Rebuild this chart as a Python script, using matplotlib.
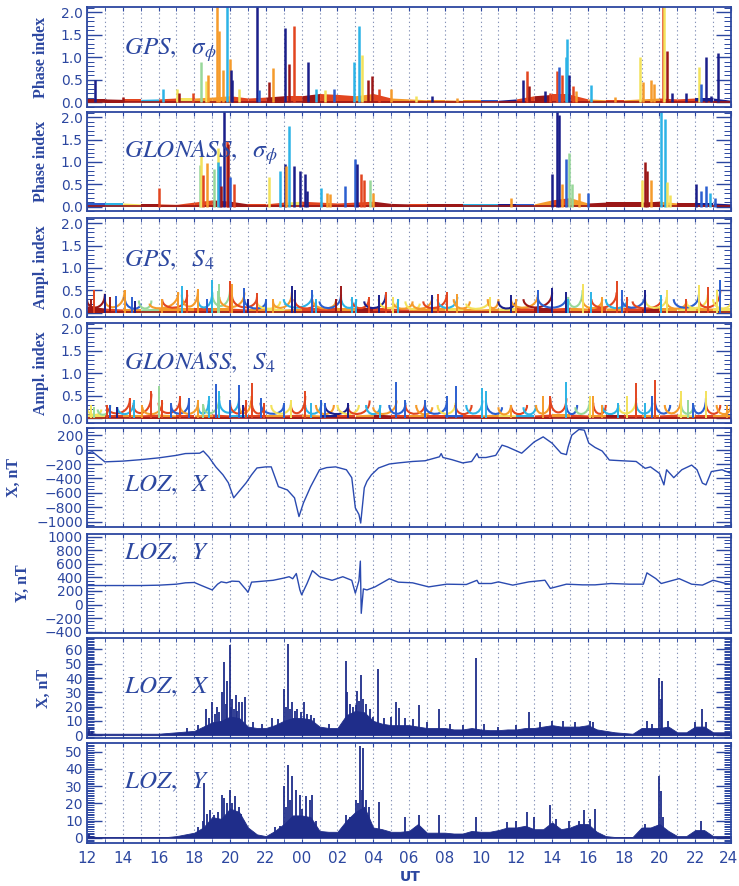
import numpy as np
import matplotlib.pyplot as plt
from matplotlib.path import Path
from matplotlib.patches import PathPatch
from matplotlib.ticker import MultipleLocator, FormatStrFormatter
from matplotlib.transforms import ScaledTranslation

plt.rcParams['mathtext.fontset'] = 'stix'

INK = '#2c47a0'
NAVY = '#1f2d8a'
# jet-like satellite colours: 0 dark blue ... 7 dark red
JET = ['#1b1f8a', '#2b5fd0', '#2cb3e6', '#98d89a', '#f3e25c', '#f59b2b', '#e2451f', '#9b1717']

# hours since 12 UT of day 1 (12..48)
band_hours = list(range(12, 49))

# ---- panel 1: GPS phase index ----
gps_phase_band = [0.08, 0.08, 0.07, 0.07, 0.08, 0.1, 0.1, 0.12, 0.15, 0.1, 0.12, 0.15, 0.15,
                  0.2, 0.18, 0.15, 0.2, 0.1, 0.08, 0.06, 0.06, 0.05, 0.05, 0.05, 0.08, 0.15,
                  0.18, 0.18, 0.08, 0.06, 0.06, 0.08, 0.1, 0.08, 0.1, 0.1, 0.05]
gps_phase_band_col = [7, 7, 6, 2, 6, 4, 5, 5, 6, 6, 7, 6, 7, 6, 6, 5, 6, 5, 5, 5, 5, 5, 1, 0,
                      6, 7, 6, 6, 5, 6, 5, 5, 6, 6, 0, 0]
gps_phase_spikes = [(12.45, 0.49, 0), (13.0, 0.08, 7), (14.0, 0.12, 7), (16.25, 0.3, 2),
                    (17.05, 0.3, 4), (17.15, 0.22, 7), (17.9, 0.2, 6), (18.4, 0.9, 3),
                    (18.65, 0.48, 4), (18.77, 0.6, 5), (19.25, 2.3, 5), (19.4, 1.58, 5),
                    (19.6, 0.72, 5), (19.85, 2.3, 2), (20.0, 0.97, 5), (20.05, 0.72, 0),
                    (20.1, 0.5, 0), (20.5, 0.3, 4), (21.5, 2.3, 0), (21.6, 0.28, 1),
                    (22.2, 0.46, 7), (22.4, 0.76, 5), (23.05, 1.66, 0), (23.3, 0.85, 7),
                    (23.55, 1.7, 6), (24.35, 0.9, 0), (24.8, 0.3, 2), (25.3, 0.28, 4),
                    (25.8, 0.3, 1), (26.9, 0.9, 2), (27.2, 1.7, 2), (27.4, 1.05, 4),
                    (27.7, 0.5, 7), (27.95, 0.58, 7), (28.3, 0.3, 6), (29.0, 0.3, 5),
                    (30.4, 0.14, 4), (31.3, 0.14, 0), (32.7, 0.1, 5), (36.4, 0.5, 0),
                    (36.6, 0.7, 6), (36.7, 0.36, 7), (37.6, 0.25, 0), (37.9, 0.2, 6),
                    (38.3, 0.7, 6), (38.4, 0.78, 1), (38.55, 0.6, 6), (38.75, 1.01, 2),
                    (38.85, 1.4, 2), (38.95, 0.6, 0), (39.15, 0.37, 6), (39.35, 0.26, 5),
                    (40.2, 0.38, 2), (41.5, 0.12, 5), (42.9, 1.0, 4), (43.1, 0.45, 5),
                    (43.5, 0.5, 5), (43.7, 0.4, 5), (44.2, 2.3, 6), (44.25, 2.3, 4),
                    (44.4, 1.15, 7), (44.7, 0.2, 0), (45.5, 0.2, 0), (46.2, 0.78, 4),
                    (46.35, 0.4, 1), (46.6, 1.0, 0), (46.9, 0.15, 0), (47.3, 1.1, 0)]

# ---- panel 2: GLONASS phase index ----
glo_phase_band = [0.08, 0.08, 0.08, 0.06, 0.06, 0.05, 0.1, 0.15, 0.12, 0.06, 0.06, 0.1, 0.12,
                  0.1, 0.08, 0.1, 0.12, 0.07, 0.06, 0.06, 0.06, 0.06, 0.06, 0.06, 0.06, 0.06,
                  0.15, 0.2, 0.08, 0.1, 0.1, 0.1, 0.12, 0.08, 0.08, 0.08, 0.06]
glo_phase_band_col = [1, 2, 4, 7, 6, 6, 6, 7, 7, 6, 6, 4, 6, 6, 6, 6, 7, 7, 6, 7, 7, 2, 2, 0,
                      1, 5, 6, 5, 7, 7, 7, 7, 5, 7, 0, 0]
glo_phase_spikes = [(16.0, 0.42, 6), (18.3, 0.94, 3), (18.35, 1.13, 4), (18.5, 0.7, 6),
                    (18.7, 0.98, 5), (19.1, 0.85, 3), (19.3, 1.32, 4), (19.35, 1.0, 2),
                    (19.45, 0.9, 1), (19.5, 0.45, 7), (19.65, 2.3, 0), (19.8, 1.47, 6),
                    (19.9, 1.4, 7), (20.0, 0.66, 1), (20.2, 0.5, 6), (22.2, 0.66, 4),
                    (22.8, 0.8, 2), (23.05, 0.95, 0), (23.1, 0.9, 5), (23.3, 1.8, 2),
                    (23.55, 0.92, 0), (23.9, 0.8, 0), (24.2, 0.72, 0), (24.3, 0.35, 0),
                    (25.1, 0.42, 2), (25.4, 0.3, 5), (25.6, 0.28, 5), (26.4, 0.47, 1),
                    (27.0, 1.07, 1), (27.1, 0.95, 0), (27.3, 0.72, 6), (27.5, 0.6, 6),
                    (27.8, 0.6, 3), (28.0, 0.3, 5), (35.7, 0.2, 5), (38.0, 0.73, 0),
                    (38.3, 2.3, 0), (38.4, 2.05, 0), (38.55, 0.5, 5), (38.8, 1.07, 1),
                    (38.95, 1.2, 3), (39.1, 0.5, 3), (39.5, 0.3, 5), (40.0, 0.3, 1),
                    (43.0, 0.6, 4), (43.2, 1.0, 7), (43.3, 0.8, 7), (43.5, 0.6, 5),
                    (44.1, 2.3, 2), (44.3, 1.97, 2), (44.4, 0.55, 4), (44.6, 0.25, 4),
                    (46.05, 0.5, 0), (46.3, 0.35, 1), (46.6, 0.47, 1), (46.8, 0.3, 2),
                    (47.1, 0.2, 1)]

# ---- panel 3: GPS S4 ----
gps_s4_band = [0.15, 0.1, 0.08, 0.08, 0.1, 0.1, 0.1, 0.1, 0.1, 0.08, 0.08, 0.08, 0.1, 0.1,
               0.1, 0.1, 0.1, 0.1, 0.08, 0.1, 0.1, 0.1, 0.08, 0.1, 0.12, 0.1, 0.1, 0.12,
               0.1, 0.1, 0.12, 0.1, 0.1, 0.1, 0.12, 0.1, 0.1]
gps_s4_band_col = [7, 6, 5, 3, 5, 5, 6, 5, 6, 5, 4, 5, 6, 6, 5, 7, 6, 6, 5, 5, 4, 5, 5, 4,
                   6, 7, 6, 5, 6, 5, 6, 7, 5, 4, 5, 4]
gps_s4_spikes = [(12.2, 0.3, 7), (12.4, 0.5, 6), (13.0, 0.42, 0), (13.3, 0.35, 7),
                 (13.6, 0.38, 1), (14.1, 0.5, 5), (14.5, 0.35, 1), (14.7, 0.25, 0),
                 (16.2, 0.3, 5), (17.1, 0.45, 5), (17.3, 0.6, 2), (17.6, 0.5, 6),
                 (18.2, 0.53, 5), (18.7, 0.3, 1), (19.0, 0.74, 2), (19.3, 0.48, 3),
                 (19.4, 0.65, 3), (20.0, 0.7, 6), (20.1, 0.65, 5), (20.8, 0.54, 1),
                 (21.0, 0.3, 0), (21.5, 0.43, 6), (22.0, 0.3, 1), (22.4, 0.3, 5),
                 (23.45, 0.6, 0), (23.6, 0.5, 0), (24.6, 0.5, 1), (24.8, 0.3, 2),
                 (25.9, 0.3, 7), (26.2, 0.6, 7), (26.8, 0.35, 2), (27.05, 0.3, 2),
                 (27.75, 0.35, 6), (28.3, 0.4, 0), (28.7, 0.46, 6), (29.1, 0.35, 4),
                 (29.4, 0.3, 2), (31.3, 0.4, 0), (31.6, 0.42, 6), (32.1, 0.46, 6),
                 (32.7, 0.42, 5), (34.5, 0.35, 4), (35.7, 0.4, 0), (36.0, 0.3, 5),
                 (37.2, 0.5, 1), (38.0, 0.55, 0), (38.8, 0.45, 0), (38.9, 0.3, 2),
                 (39.7, 0.63, 4), (40.2, 0.45, 2), (40.8, 0.35, 5), (41.6, 0.7, 6),
                 (41.9, 0.5, 1), (42.2, 0.35, 6), (43.2, 0.5, 0), (44.1, 0.4, 2),
                 (44.4, 0.5, 4), (45.5, 0.3, 6), (46.2, 0.62, 4), (46.7, 0.58, 6),
                 (47.2, 0.5, 4), (47.4, 0.74, 1)]
gps_s4_arcs = [(12.0, 13.0, 0.3, 0.42, 7), (13.0, 14.1, 0.3, 0.5, 5), (14.1, 15.0, 0.35, 0.2, 1),
               (14.9, 15.6, 0.27, 0.27, 3), (15.5, 17.1, 0.2, 0.45, 5), (16.2, 17.6, 0.3, 0.4, 6),
               (17.3, 18.2, 0.4, 0.5, 5), (18.2, 19.0, 0.3, 0.45, 2), (19.0, 20.0, 0.45, 0.55, 3),
               (19.4, 20.8, 0.35, 0.45, 5), (20.1, 21.5, 0.4, 0.35, 6), (20.8, 22.0, 0.3, 0.25, 1),
               (21.5, 22.8, 0.25, 0.25, 4), (22.4, 23.45, 0.25, 0.45, 5), (23.0, 24.6, 0.3, 0.4, 2),
               (23.6, 24.8, 0.3, 0.25, 6), (24.6, 25.9, 0.3, 0.25, 5), (25.0, 26.2, 0.25, 0.4, 1),
               (26.2, 27.05, 0.35, 0.3, 2), (26.8, 27.75, 0.3, 0.3, 6), (27.5, 28.7, 0.25, 0.4, 0),
               (28.3, 29.4, 0.3, 0.3, 4), (29.1, 30.2, 0.25, 0.25, 5), (29.8, 30.6, 0.25, 0.2, 4),
               (30.2, 31.3, 0.2, 0.35, 5), (30.8, 32.1, 0.25, 0.4, 6), (31.6, 32.7, 0.3, 0.35, 2),
               (32.5, 33.4, 0.3, 0.25, 5), (33.2, 34.5, 0.2, 0.3, 4), (34.4, 35.0, 0.3, 0.3, 5),
               (35.0, 36.0, 0.25, 0.3, 0), (35.7, 37.2, 0.3, 0.4, 5), (36.4, 38.0, 0.3, 0.45, 7),
               (37.2, 38.8, 0.35, 0.35, 1), (38.9, 39.7, 0.35, 0.5, 3), (39.7, 40.8, 0.3, 0.3, 5),
               (40.2, 41.6, 0.3, 0.45, 6), (41.0, 42.2, 0.3, 0.3, 2), (41.9, 43.2, 0.3, 0.4, 1),
               (42.5, 44.1, 0.25, 0.3, 6), (43.2, 44.4, 0.3, 0.35, 4), (44.4, 45.5, 0.25, 0.25, 5),
               (44.8, 46.2, 0.3, 0.4, 1), (45.5, 46.7, 0.25, 0.4, 4), (46.2, 47.4, 0.3, 0.5, 6),
               (47.0, 48.0, 0.3, 0.25, 4)]

# ---- panel 4: GLONASS S4 ----
glo_s4_band = [0.1, 0.08, 0.08, 0.08, 0.1, 0.08, 0.08, 0.1, 0.08, 0.08, 0.08, 0.08, 0.1, 0.08,
               0.08, 0.08, 0.1, 0.08, 0.08, 0.08, 0.08, 0.08, 0.08, 0.1, 0.08, 0.08, 0.1, 0.1,
               0.08, 0.08, 0.08, 0.08, 0.08, 0.1, 0.08, 0.08, 0.08]
glo_s4_band_col = [4, 6, 5, 6, 5, 6, 5, 6, 2, 6, 5, 6, 5, 0, 6, 5, 7, 6, 5, 6, 1, 6, 5, 4,
                   2, 6, 5, 6, 5, 7, 6, 5, 6, 4, 6, 5]
glo_s4_spikes = [(12.2, 0.3, 4), (12.4, 0.25, 3), (13.1, 0.3, 6), (13.3, 0.3, 1),
                 (13.7, 0.25, 0), (14.4, 0.45, 6), (14.6, 0.4, 2), (15.1, 0.3, 5),
                 (15.6, 0.6, 6), (16.0, 0.73, 3), (16.2, 0.4, 6), (16.7, 0.35, 1),
                 (17.2, 0.5, 6), (17.7, 0.45, 1), (18.2, 0.4, 5), (18.5, 0.33, 3),
                 (18.8, 0.5, 2), (19.2, 0.76, 1), (19.4, 0.6, 2), (20.0, 0.4, 1),
                 (20.5, 0.75, 1), (20.7, 0.3, 0), (20.9, 0.4, 6), (21.2, 0.78, 6),
                 (21.7, 0.45, 1), (21.9, 0.35, 6), (23.0, 0.35, 1), (23.4, 0.4, 4),
                 (24.2, 0.6, 6), (24.5, 0.35, 2), (25.1, 0.4, 1), (25.3, 0.35, 1),
                 (26.6, 0.35, 0), (28.4, 0.3, 2), (29.3, 0.81, 1), (29.8, 0.4, 1),
                 (30.9, 0.4, 1), (32.1, 0.5, 1), (32.6, 0.73, 1), (34.1, 0.67, 2),
                 (34.3, 0.6, 2), (35.7, 0.3, 5), (37.5, 0.5, 5), (37.9, 0.5, 6),
                 (38.8, 0.81, 2), (40.1, 0.5, 4), (40.3, 0.5, 5), (40.8, 0.3, 5),
                 (41.7, 0.35, 2), (42.2, 0.5, 4), (42.7, 0.78, 6), (43.2, 0.35, 2),
                 (43.6, 0.5, 1), (43.75, 0.85, 6), (45.2, 0.6, 4), (45.6, 0.4, 3),
                 (45.9, 0.35, 1), (46.6, 0.62, 4), (47.8, 0.3, 5)]
glo_s4_arcs = [(12.0, 12.8, 0.25, 0.2, 4), (12.6, 13.3, 0.2, 0.3, 3), (13.1, 14.4, 0.3, 0.45, 6),
               (13.7, 14.6, 0.25, 0.35, 2), (14.6, 15.6, 0.3, 0.55, 6), (15.1, 16.2, 0.25, 0.35, 5),
               (16.0, 17.2, 0.35, 0.45, 6), (16.7, 17.7, 0.3, 0.4, 1), (17.2, 18.2, 0.3, 0.35, 5),
               (18.2, 18.8, 0.3, 0.4, 2), (18.5, 19.4, 0.3, 0.5, 3), (19.4, 20.5, 0.4, 0.45, 2),
               (20.0, 20.9, 0.35, 0.35, 6), (20.5, 21.2, 0.3, 0.5, 5), (21.2, 21.9, 0.4, 0.3, 6),
               (21.7, 23.0, 0.35, 0.3, 1), (22.3, 23.4, 0.3, 0.35, 4), (23.4, 24.2, 0.3, 0.5, 6),
               (24.2, 25.1, 0.3, 0.35, 2), (24.8, 25.8, 0.3, 0.3, 5), (25.3, 26.6, 0.3, 0.3, 0),
               (26.0, 27.2, 0.3, 0.3, 4), (26.6, 27.8, 0.25, 0.4, 6), (27.6, 28.4, 0.3, 0.3, 2),
               (28.0, 29.3, 0.25, 0.4, 5), (28.9, 29.8, 0.3, 0.35, 1), (29.8, 30.9, 0.3, 0.35, 6),
               (30.4, 31.3, 0.3, 0.25, 5), (30.9, 32.1, 0.3, 0.35, 1), (31.6, 32.6, 0.3, 0.35, 4),
               (32.6, 33.5, 0.3, 0.3, 6), (33.2, 34.1, 0.3, 0.4, 2), (34.3, 35.2, 0.4, 0.25, 1),
               (35.0, 35.7, 0.25, 0.3, 5), (35.7, 36.6, 0.3, 0.3, 6), (36.4, 37.1, 0.25, 0.3, 2),
               (37.1, 37.9, 0.3, 0.4, 5), (37.9, 38.8, 0.45, 0.45, 6), (38.8, 39.4, 0.3, 0.3, 1),
               (39.3, 40.1, 0.25, 0.4, 3), (40.3, 41.0, 0.35, 0.3, 6), (40.8, 41.7, 0.3, 0.3, 2),
               (41.7, 42.7, 0.3, 0.45, 4), (42.7, 43.6, 0.35, 0.35, 2), (43.75, 44.6, 0.4, 0.3, 1),
               (44.3, 45.2, 0.3, 0.45, 5), (45.2, 45.9, 0.35, 0.3, 3), (45.9, 46.6, 0.3, 0.45, 1),
               (46.6, 47.4, 0.35, 0.3, 6), (47.2, 48.0, 0.3, 0.3, 5)]

# ---- panel 5: LOZ X, nT ----
loz_x_t = [12.0, 12.3, 13.0, 14.0, 15.0, 16.0, 17.0, 17.5, 18.3, 18.5, 18.8, 19.2, 19.6, 19.9,
           20.2, 20.5, 20.9, 21.2, 21.5, 22.0, 22.3, 22.7, 23.2, 23.6, 23.85, 24.1, 24.5, 25.0,
           25.4, 25.9, 26.5, 26.8, 27.0, 27.2, 27.3, 27.5, 27.65, 27.9, 28.3, 28.9, 29.4, 30.2,
           30.9, 31.7, 31.8, 31.9, 32.4, 33.0, 33.5, 33.8, 33.9, 34.3, 34.85, 35.2, 35.5, 36.3,
           37.0, 37.5, 38.0, 38.5, 38.8, 38.9, 39.1, 39.5, 39.8, 40.05, 40.4, 40.8, 41.2, 41.9,
           42.7, 43.2, 43.5, 44.0, 44.25, 44.4, 44.8, 45.25, 45.8, 46.1, 46.4, 46.6, 46.9, 47.5,
           48.0]
loz_x_v = [-50, -30, -170, -160, -140, -115, -80, -55, -50, -20, -100, -240, -350, -460,
           -670, -580, -460, -350, -255, -240, -240, -515, -560, -670, -930, -740, -515, -280,
           -250, -240, -280, -390, -810, -900, -1020, -530, -440, -350, -255, -200, -185, -165,
           -155, -100, -55, -110, -140, -185, -165, -55, -110, -110, -80, 62, 38, -50,
           107, 177, 89, -50, -70, 40, 200, 280, 270, 90, 30, -20, -145, -155,
           -165, -260, -240, -330, -490, -280, -390, -280, -215, -280, -465, -490, -305, -280,
           -330]

# ---- panel 6: LOZ Y, nT ----
loz_y_t = [12.0, 13.0, 14.0, 15.0, 16.0, 17.0, 17.5, 18.0, 18.4, 19.0, 19.3, 19.5, 19.8, 20.1,
           20.5, 20.9, 21.0, 21.2, 22.4, 23.0, 23.3, 23.5, 23.7, 23.9, 24.0, 24.3, 24.6, 25.0,
           25.7, 26.3, 26.8, 27.0, 27.2, 27.28, 27.33, 27.45, 27.65, 28.1, 28.9, 29.4, 30.2,
           31.1, 32.1, 33.2, 33.8, 33.9, 34.6, 35.0, 35.8, 36.7, 37.6, 37.9, 38.8, 39.7, 40.4,
           41.3, 42.3, 43.1, 43.3, 43.8, 44.1, 45.1, 45.8, 46.4, 47.0, 47.7, 48.0]
loz_y_v = [280, 280, 280, 280, 285, 300, 320, 325, 280, 215, 300, 335, 320, 345,
           340, 215, 180, 330, 357, 390, 410, 380, 457, 215, 143, 310, 500, 410,
           357, 410, 357, 167, 350, 640, -130, 230, 215, 260, 380, 330, 320,
           260, 300, 295, 357, 310, 310, 334, 286, 334, 358, 238, 300, 290, 290,
           310, 300, 300, 467, 382, 310, 382, 300, 286, 358, 310, 300]

# ---- panels 7 and 8: LOZ X and Y fluctuations, nT ----
env_t = [12 + 0.5 * i for i in range(73)]
dx_env = [2, 1, 1, 1, 1, 1, 1, 1, 1, 1.5, 2, 2.5, 3, 6, 9, 10, 13, 12, 6, 5, 5, 7, 10, 12, 12,
          11, 6, 5, 5, 14, 17, 16, 10, 8, 7, 7, 7, 6, 5, 5, 5, 4, 4, 5, 4, 3.5, 3.5, 4, 4, 5,
          5, 6, 7, 6, 6, 6, 7, 4, 3, 2, 1.5, 1, 5, 5, 5, 6, 2, 2, 6, 6, 2, 2, 2]
dx_spikes = [(12.1, 4), (12.3, 3), (17.6, 5), (18.2, 7), (18.63, 18), (18.8, 12), (19.0, 23.5),
             (19.15, 15), (19.28, 19.6), (19.4, 16), (19.53, 30), (19.66, 51), (19.75, 22),
             (19.84, 38), (19.98, 63), (20.05, 20), (20.12, 25), (20.2, 18), (20.31, 28),
             (20.4, 17), (20.5, 23), (20.65, 23.5), (20.83, 27), (21.3, 9), (21.8, 8),
             (22.36, 12), (22.7, 11), (23.01, 32), (23.15, 20), (23.25, 63.5), (23.35, 18),
             (23.48, 23.5), (23.6, 17), (23.76, 18), (23.95, 16), (24.13, 23.5), (24.3, 15),
             (24.5, 14), (24.7, 12), (25.5, 8), (26.46, 52), (26.55, 30), (26.7, 22),
             (26.85, 20), (27.02, 21), (27.11, 31), (27.2, 24), (27.3, 42), (27.45, 25),
             (27.6, 22), (27.8, 18), (28.0, 13), (28.28, 46), (28.6, 12), (29.0, 13),
             (29.25, 23.5), (29.44, 19), (29.8, 12), (30.2, 11), (30.56, 21), (31.0, 9),
             (31.68, 18), (32.3, 8), (33.0, 7), (33.73, 54), (34.2, 8), (35.0, 6), (36.0, 7),
             (36.7, 16.5), (37.3, 9), (38.0, 10), (38.6, 10), (39.3, 9), (40.1, 10), (40.3, 9),
             (43.32, 10), (43.6, 8), (43.97, 40), (44.08, 25), (44.16, 38), (44.5, 10),
             (46.0, 9), (46.36, 18), (46.6, 9)]
dy_env = [1.5, 0.5, 0.5, 0.5, 0.5, 0.5, 0.5, 0.5, 0.5, 0.5, 1, 2, 3, 6, 12, 11, 17, 15, 6, 2,
          1, 4, 8, 13, 13, 12, 4, 3.5, 3.5, 10, 15, 18, 6, 5, 3.5, 3.5, 4, 8, 3, 3, 3, 2.5,
          2.5, 4, 3.5, 3.5, 4.5, 6, 6, 7, 5, 5, 9, 5, 6, 8, 8, 3.5, 1, 0.5, 0.5, 0.5, 6, 6,
          8, 4, 1, 1, 4.5, 4.5, 1, 1, 1]
dy_spikes = [(12.1, 2.5), (18.2, 6), (18.46, 10), (18.54, 32), (18.7, 14), (18.9, 16),
             (19.1, 13), (19.3, 15), (19.53, 25), (19.66, 23), (19.8, 20), (19.98, 28),
             (20.1, 20), (20.3, 24), (20.5, 18), (20.6, 14), (20.8, 10), (22.5, 6), (22.8, 7),
             (23.01, 30), (23.12, 18), (23.25, 42), (23.36, 22), (23.48, 36), (23.67, 28),
             (23.9, 25), (24.04, 17), (24.23, 24), (24.45, 22), (24.6, 25), (24.8, 10),
             (26.46, 13), (26.7, 12), (27.02, 22), (27.15, 20), (27.24, 53), (27.35, 28),
             (27.43, 52), (27.6, 22), (27.75, 18), (28.33, 21), (29.8, 12), (30.56, 13),
             (31.68, 13), (33.73, 12), (35.5, 9), (36.0, 10), (36.6, 15), (37.0, 12),
             (37.9, 19), (38.2, 11), (38.95, 10), (39.5, 10), (39.8, 16), (40.1, 11),
             (40.4, 16.5), (43.2, 8), (43.97, 36), (44.06, 27), (44.2, 12), (46.3, 10)]

x_labels = ['12', '14', '16', '18', '20', '22', '00', '02', '04', '06', '08', '10',
            '12', '14', '16', '18', '20', '22', '24']

panel_px = [(7, 107), (112, 211), (218, 317), (323, 423), (428, 527), (534, 633),
            (638, 738), (743, 843)]

W, H = 739, 886
fig = plt.figure(figsize=(W / 100, H / 100), dpi=100)
axes = []
for top, bot in panel_px:
    axes.append(fig.add_axes([87 / W, 1 - bot / H, 644 / W, (bot - top) / H]))


def style(ax, ylim, major, minor, fmt=None):
    ax.set_xlim(12, 48)
    ax.set_ylim(*ylim)
    ax.xaxis.set_major_locator(MultipleLocator(2))
    ax.xaxis.set_minor_locator(MultipleLocator(1))
    ax.yaxis.set_major_locator(MultipleLocator(major))
    ax.yaxis.set_minor_locator(MultipleLocator(minor))
    if fmt:
        ax.yaxis.set_major_formatter(FormatStrFormatter(fmt))
    ax.set_axisbelow(True)
    ax.grid(axis='x', which='both', color='#8592b8', ls=(0, (1.2, 2.6)), lw=0.8)
    ax.tick_params(axis='y', which='major', direction='in', length=11, width=1.0,
                   color=INK, left=True, right=True, labelsize=10, labelcolor=INK, pad=3)
    ax.tick_params(axis='y', which='minor', direction='in', length=5, width=0.7,
                   color=INK, left=True, right=True)
    ax.tick_params(axis='x', which='both', direction='in', length=3, color=INK,
                   top=True, bottom=True, labelbottom=False)
    for sp in ax.spines.values():
        sp.set_color(INK)
        sp.set_linewidth(1.3)


def draw_band(ax, levels, cols):
    for i in range(len(cols)):
        ax.fill_between(band_hours[i:i + 2], 0, levels[i:i + 2], color=JET[cols[i]], lw=0)
    ax.plot(band_hours, [0.015] * len(band_hours), color=JET[7], lw=1.2)


def draw_spikes(ax, spikes, lw=1.8):
    ax.vlines([s[0] for s in spikes], 0, [s[1] for s in spikes],
              colors=[JET[s[2]] for s in spikes], lw=lw)


def draw_arcs(ax, arcs):
    for t0, t1, h0, h1, c in arcs:
        path = Path([(t0, h0), (t0, 0.03), (t1, 0.03), (t1, h1)],
                    [Path.MOVETO, Path.CURVE4, Path.CURVE4, Path.CURVE4])
        ax.add_patch(PathPatch(path, fill=False, ec=JET[c], lw=1.5))


# phase panels
for ax, band, bcol, spikes in [(axes[0], gps_phase_band, gps_phase_band_col, gps_phase_spikes),
                               (axes[1], glo_phase_band, glo_phase_band_col, glo_phase_spikes)]:
    style(ax, (-0.1, 2.12), 0.5, 0.1, '%.1f')
    draw_band(ax, band, bcol)
    draw_spikes(ax, spikes)

# amplitude panels
for ax, band, bcol, spikes, arcs in [(axes[2], gps_s4_band, gps_s4_band_col, gps_s4_spikes, gps_s4_arcs),
                                     (axes[3], glo_s4_band, glo_s4_band_col, glo_s4_spikes, glo_s4_arcs)]:
    style(ax, (-0.1, 2.12), 0.5, 0.1, '%.1f')
    draw_band(ax, band, bcol)
    draw_arcs(ax, arcs)
    draw_spikes(ax, spikes, lw=1.4)

# magnetometer
style(axes[4], (-1075, 300), 200, 50)
axes[4].plot(loz_x_t, loz_x_v, color='#2a4ab0', lw=1.0)
style(axes[5], (-420, 1040), 200, 50)
axes[5].plot(loz_y_t, loz_y_v, color='#2a4ab0', lw=1.0)

style(axes[6], (-2, 68), 10, 1)
axes[6].fill_between(env_t, 0, dx_env, color=NAVY, lw=0.6, ec=NAVY)
axes[6].vlines([s[0] for s in dx_spikes], 0, [s[1] for s in dx_spikes], colors=NAVY, lw=1.3)
style(axes[7], (-3, 55), 10, 1)
axes[7].fill_between(env_t, 0, dy_env, color=NAVY, lw=0.6, ec=NAVY)
axes[7].vlines([s[0] for s in dy_spikes], 0, [s[1] for s in dy_spikes], colors=NAVY, lw=1.3)

axes[7].set_xticks(range(12, 49, 2))
axes[7].set_xticklabels(x_labels)
axes[7].tick_params(axis='x', labelbottom=True, labelsize=11, labelcolor=INK, pad=6)
last = axes[7].get_xticklabels()[-1]
last.set_transform(last.get_transform() + ScaledTranslation(-2 / 72, 0, fig.dpi_scale_trans))

# panel captions
captions = [r'$GPS,\ \ \sigma_{\phi}$', r'$GLONASS,\ \ \sigma_{\phi}$', r'$GPS,\ \ S_{4}$',
            r'$GLONASS,\ \ S_{4}$', r'$LOZ,\ \ X$', r'$LOZ,\ \ Y$', r'$LOZ,\ \ X$', r'$LOZ,\ \ Y$']
cap_y = [0.57, 0.59, 0.575, 0.6, 0.42, 0.81, 0.51, 0.61]
for ax, cap, cy in zip(axes, captions, cap_y):
    ax.text(0.058, cy, cap, transform=ax.transAxes, fontsize=18, color=INK, va='center')

# y labels
ylabels = ['Phase index', 'Phase index', 'Ampl. index', 'Ampl. index', 'X, nT', 'Y, nT', 'X, nT', None]
ylab_x = [41, 41, 41, 41, 14, 23, 44, None]
for (top, bot), lab, xl in zip(panel_px, ylabels, ylab_x):
    if lab:
        fig.text(xl / W, 1 - (top + bot) / 2 / H, lab, rotation=90, ha='center', va='center',
                 fontfamily='Liberation Serif', fontweight='bold', fontsize=11.5, color=INK)

fig.text(410 / W, 1 - 877 / H, 'UT', ha='center', va='center', fontsize=10,
         fontweight='bold', color=INK)

fig.savefig('out.png', dpi=100)
